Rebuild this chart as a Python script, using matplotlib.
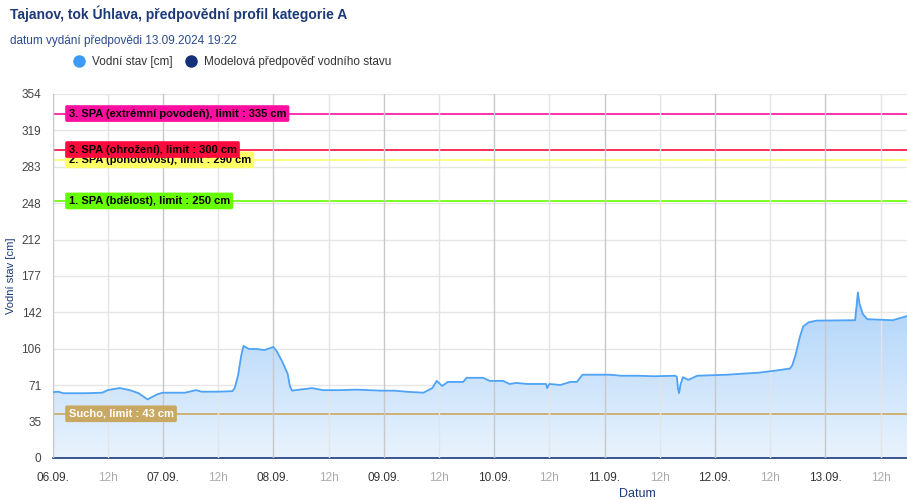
import matplotlib.pyplot as plt
import numpy as np
from matplotlib.lines import Line2D

plt.rcParams['font.family'] = ['Liberation Sans', 'DejaVu Sans']

# water level, time in days since 06.09. 00:00
days = [0.0, 0.05, 0.1, 0.3, 0.45, 0.5, 0.55, 0.61, 0.7, 0.78, 0.86, 0.95, 1.0, 1.2, 1.3,
        1.35, 1.5, 1.63, 1.65, 1.68, 1.71, 1.73, 1.78, 1.85, 1.92, 2.0, 2.03, 2.08, 2.13,
        2.15, 2.17, 2.2, 2.28, 2.35, 2.45, 2.6, 2.75, 2.97, 3.1, 3.2, 3.36, 3.44, 3.48,
        3.53, 3.58, 3.72, 3.75, 3.9, 3.96, 4.08, 4.14, 4.2, 4.3, 4.47, 4.48, 4.5, 4.6,
        4.69, 4.75, 4.8, 5.05, 5.15, 5.3, 5.45, 5.64, 5.655, 5.665, 5.675, 5.69, 5.71,
        5.76, 5.84, 6.11, 6.25, 6.4, 6.55, 6.68, 6.7, 6.73, 6.77, 6.8, 6.85, 6.92, 7.27,
        7.285, 7.295, 7.31, 7.34, 7.38, 7.61, 7.74]
level = [64, 64.5, 63, 63, 63.5, 66, 67, 68, 66, 63, 57, 62, 63.5, 63.5, 66,
         64.5, 64.5, 65, 68, 80, 100, 109, 106, 106, 105, 108, 104, 94, 82,
         70, 65.5, 66, 67, 68, 66, 66, 66.5, 65.5, 65.5, 64.5, 63.5, 68, 75,
         70, 74, 74, 78, 78, 75, 75, 72, 73, 72, 72, 68, 72, 71,
         74, 74, 81, 81, 80, 80, 79.5, 80, 79, 68, 63, 72, 78.5,
         76, 80, 81, 82, 83, 85, 87, 90, 100, 118, 128, 132, 133.6, 134,
         150, 161, 150, 140, 135, 134, 138]

# warning levels
limit_values = [335, 300, 290, 250, 43]
limit_labels = ['3. SPA (extrémní povodeň), limit : 335 cm',
                '3. SPA (ohrožení), limit : 300 cm',
                '2. SPA (pohotovost), limit : 290 cm',
                '1. SPA (bdělost), limit : 250 cm',
                'Sucho, limit : 43 cm']
limit_colors = ['#ff0fa0', '#ff0a3c', '#ffff66', '#66ff00', '#c9a862']
limit_text_colors = ['#000000', '#000000', '#000000', '#000000', '#ffffff']

y_ticks = [0, 35.4, 70.8, 106.2, 141.6, 177, 212.4, 247.8, 283.2, 318.6, 354]
date_labels = ['06.09.', '07.09.', '08.09.', '09.09.', '10.09.', '11.09.', '12.09.', '13.09.']

navy = '#1c3a78'

fig = plt.figure(figsize=(9.07, 5.0), dpi=100)
ax = fig.add_axes([0.0579, 0.084, 0.9421, 0.728])
x_max = 7.74
ax.set_xlim(0, x_max)
ax.set_ylim(0, 354)

# grid
for d in range(len(date_labels)):
    ax.axvline(d, color='#c8c8c8', lw=1.0, zorder=3)
    ax.axvline(d + 0.5, color='#e4e4e4', lw=1.0, zorder=3)
for yt in y_ticks[1:]:
    ax.axhline(yt, color='#e6e6e6', lw=1.0, zorder=1)

# gradient area
x = np.array(days)
y = np.array(level)
grad = np.linspace(0, 1, 256).reshape(-1, 1)
cmap = plt.matplotlib.colors.LinearSegmentedColormap.from_list('g', ['#e9f3fd', '#aed3fa'])
im = ax.imshow(grad, extent=[0, x_max, 0, max(level)], origin='lower', aspect='auto',
               cmap=cmap, zorder=2)
poly = ax.fill_between(x, y, 0, color='none')
path = poly.get_paths()[0]
im.set_clip_path(path, transform=ax.transData)
ax.plot(x, y, color='#4fa3f5', lw=1.3, zorder=4)

# warning lines + labels
for val, col in zip(limit_values, limit_colors):
    ax.axhline(val, color=col, lw=1.2, zorder=2.5)
for val, lab, col, tcol in reversed(list(zip(limit_values, limit_labels, limit_colors, limit_text_colors))):
    ax.text(0.145, val, lab, fontsize=8, fontweight='bold', color=tcol, va='center', ha='left',
            zorder=6, bbox=dict(boxstyle='round,pad=0.3,rounding_size=0.15', fc=col, ec='none'))

# axes look
for s in ['top', 'right']:
    ax.spines[s].set_visible(False)
ax.spines['left'].set_color('#c8c8c8')
ax.spines['bottom'].set_color('#1c3a78')
ax.spines['bottom'].set_linewidth(1.2)
ax.set_yticks(y_ticks)
ax.set_yticklabels([str(int(round(v))) for v in y_ticks])
ax.tick_params(axis='y', length=0, labelsize=8.5, labelcolor='#444444', pad=8)

ticks = []
labels = []
for d, lab in enumerate(date_labels):
    ticks += [d, d + 0.5]
    labels += [lab, '12h']
ax.set_xticks(ticks)
ax.set_xticklabels(labels)
ax.tick_params(axis='x', length=0, labelsize=8.5, pad=10)
for i, t in enumerate(ax.get_xticklabels()):
    t.set_color('#333333' if i % 2 == 0 else '#aaaaaa')

ax.set_ylabel('Vodní stav [cm]', color=navy, fontsize=8)
ax.yaxis.set_label_coords(-0.043, 0.5)
ax.set_xlabel('Datum', color=navy, fontsize=9)
ax.xaxis.set_label_coords(0.684, -0.082)

# titles
fig.text(0.011, 0.972, 'Tajanov, tok Úhlava, předpovědní profil kategorie A', fontsize=10,
         fontweight='bold', color=navy, va='center')
fig.text(0.011, 0.918, 'datum vydání předpovědi 13.09.2024 19:22', fontsize=8.5,
         color='#2a4a8f', va='center')

handles = [Line2D([], [], marker='o', ls='', ms=8, color='#3d9bf5'),
           Line2D([], [], marker='o', ls='', ms=8, color='#14307a')]
fig.legend(handles, ['Vodní stav [cm]', 'Modelová předpověď vodního stavu'],
           loc='center left', bbox_to_anchor=(0.062, 0.876), ncol=2, frameon=False,
           fontsize=8.5, handletextpad=0.1, columnspacing=0.6, labelcolor='#333333')

fig.savefig('out.png', dpi=100)
